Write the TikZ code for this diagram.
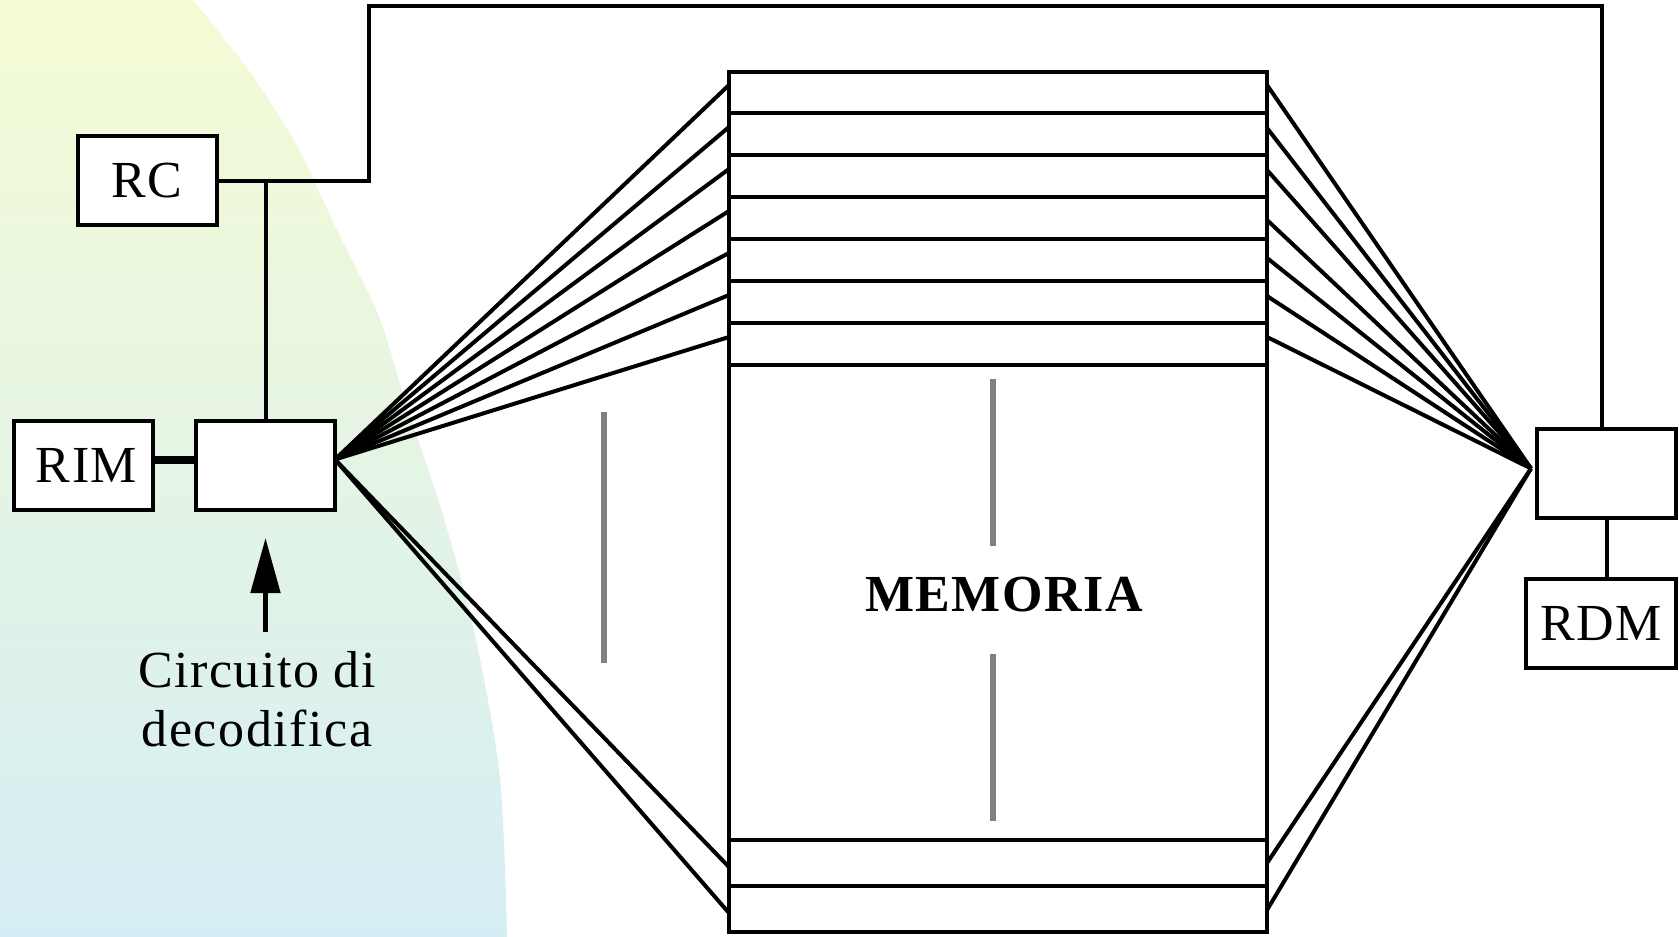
\documentclass[tikz,border=0pt]{standalone}
\usepackage{fontspec}
\setmainfont[LetterSpace=3]{Liberation Serif}
\usetikzlibrary{positioning,arrows.meta}
\definecolor{bgtop}{HTML}{F4FBD4}
\definecolor{bgmid}{HTML}{E3F4E3}
\definecolor{bgbot}{HTML}{D5EEF5}

\begin{document}
\begin{tikzpicture}[x=1pt,y=-1pt,line width=4pt,font=\fontsize{52}{59}\selectfont,
        box/.style={draw, fill=white, outer sep=0pt, inner sep=0pt, minimum width=139pt, minimum height=89pt},
        grayline/.style={draw=gray, line width=6pt}]
    \useasboundingbox (0,0) rectangle (1679,937);
    % sfondo
    \shade[top color=bgtop, middle color=bgmid, bottom color=bgbot]
        (0,0) -- plot[smooth] coordinates {(193,0) (250,72) (296,144) (336,228) (379,317)
        (407,407) (443,515) (475,635) (500,778) (507,937)} -- (0,937) -- cycle;
    % memoria
    \node (mem) [draw, outer sep=0pt, minimum width=538pt, minimum height=860pt] at (998,502) {};
    \foreach \y in {113,155,197,239,281,323,365,840,886}
        \draw (mem.west |- 0,\y) -- (mem.east |- 0,\y);
    \draw[grayline] (604,412) -- (604,663);
    \draw[grayline] (993,379) -- (993,546);
    \draw[grayline] (993,654) -- (993,821);
    \node (memlabel) [font=\fontsize{52}{59}\selectfont\bfseries] at (1004,595) {MEMORIA};
    % registri
    \node (dec) [box] at (265.5,465.5) {};
    \node (rim) [box, left=43pt of dec] {\hspace*{6pt}RIM};
    \node (rc) [box] at (147,180.5) {RC};
    \node (rbox) [box] at (1606.5,473.5) {};
    \node (rdm) [box, minimum width=150pt] at (1601,623.5) {RDM};
    \coordinate (dout) at ([yshift=6pt]dec.east);
    \coordinate (rin) at ([xshift=-6pt,yshift=5pt]rbox.west);
    % fili di selezione
    \foreach \y [count=\i] in {85,127,169,211,253,295,337,867,913} {
        \coordinate (l\i) at (mem.west |- 0,\y);
        \draw (dout) -- (l\i);
    }
    \foreach \y [count=\i] in {85,128,170,220,258,296,337,863,910} {
        \coordinate (r\i) at (mem.east |- 0,\y);
        \draw (r\i) -- (rin);
    }
    \coordinate (top) at (369,6);
    \draw (rc.east) -| (top) -| ([xshift=-5pt]rbox.north);
    \draw (dec.north) -- (dec.north |- rc.east);
    \draw[line width=8pt] ([yshift=6pt]rim.east) -- ([yshift=6pt]dec.west);
    \draw (rbox.south) -- (rbox.south |- rdm.north);
    \node (circ) [align=center] at (257,699) {Circuito di\\decodifica};
    \draw[line width=5pt, -{Triangle[length=55pt,width=29pt]}] (dec.south |- 0,632) -- ([yshift=-28pt]dec.south);
\end{tikzpicture}
\end{document}
